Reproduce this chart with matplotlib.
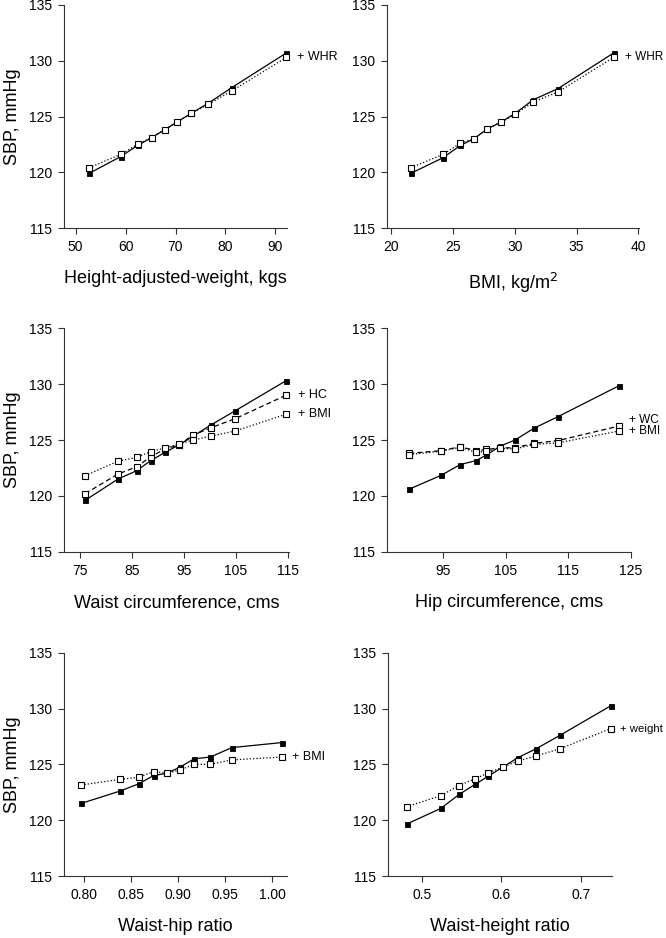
import matplotlib.pyplot as plt

plt.rcParams["font.family"] = ["Liberation Sans", "DejaVu Sans"]

# ==== DATOS ====
# panel 1: height-adjusted weight
haw_x = [52.7, 59.0, 62.4, 65.2, 67.8, 70.3, 73.2, 76.6, 81.3, 92.2]
haw_sbp = [119.9, 121.4, 122.4, 123.1, 123.8, 124.5, 125.3, 126.2, 127.6, 130.7]
haw_whr = [120.4, 121.6, 122.5, 123.1, 123.8, 124.5, 125.3, 126.1, 127.3, 130.3]

# panel 2: BMI
bmi_x = [21.6, 24.2, 25.6, 26.7, 27.8, 28.9, 30.05, 31.5, 33.5, 38.0]
bmi_sbp = [119.9, 121.3, 122.4, 123.0, 123.9, 124.5, 125.3, 126.5, 127.5, 130.7]
bmi_whr = [120.4, 121.6, 122.6, 123.0, 123.9, 124.5, 125.2, 126.3, 127.2, 130.3]

# panel 3: waist circumference
wc_x = [76.0, 82.3, 85.9, 88.6, 91.4, 94.0, 96.8, 100.2, 104.8, 114.6]
wc_sbp = [119.6, 121.5, 122.25, 123.15, 123.9, 124.55, 125.35, 126.35, 127.6, 130.3]
wc_hc = [120.2, 121.95, 122.6, 123.5, 124.2, 124.55, 125.45, 126.1, 126.9, 129.0]
wc_bmi = [121.8, 123.1, 123.45, 123.95, 124.3, 124.65, 125.0, 125.35, 125.8, 127.3]

# panel 4: hip circumference
hc_x = [89.55, 94.7, 97.7, 100.2, 101.9, 104.1, 106.5, 109.5, 113.4, 123.1]
hc_sbp = [120.6, 121.85, 122.8, 123.15, 123.65, 124.45, 125.0, 126.05, 127.1, 129.85]
hc_wc = [123.8, 124.05, 124.4, 124.05, 124.15, 124.3, 124.3, 124.7, 124.95, 126.25]
hc_bmi = [123.7, 124.0, 124.35, 123.9, 124.0, 124.25, 124.2, 124.6, 124.75, 125.8]

# panel 5: waist-hip ratio
whr_x = [0.797, 0.838, 0.858, 0.874, 0.888, 0.902, 0.917, 0.934, 0.957, 1.010]
whr_sbp = [121.5, 122.6, 123.25, 124.0, 124.2, 124.75, 125.5, 125.65, 126.5, 126.95]
whr_bmi = [123.15, 123.65, 123.85, 124.35, 124.2, 124.5, 125.0, 125.0, 125.4, 125.65]

# panel 6: waist-height ratio
whtr_x = [0.481, 0.524, 0.547, 0.567, 0.584, 0.602, 0.621, 0.644, 0.674, 0.738]
whtr_sbp = [119.65, 121.05, 122.3, 123.2, 123.95, 124.75, 125.6, 126.4, 127.6, 130.25]
whtr_wt = [121.2, 122.2, 123.1, 123.7, 124.25, 124.75, 125.3, 125.75, 126.4, 128.2]

# ==== FIGURA ====
W, H = 666, 938
fig = plt.figure(figsize=(W / 100, H / 100), dpi=100)


def make_ax(l, r, t, b):
    return fig.add_axes([l / W, 1 - b / H, (r - l) / W, (b - t) / H])


def style(ax, xlim, xticks, xlabels, xlabel, ylab):
    ax.set_xlim(*xlim)
    ax.set_ylim(115, 135)
    ax.set_xticks(xticks)
    ax.set_xticklabels(xlabels)
    ax.set_yticks([115, 120, 125, 130, 135])
    for s in ["top", "right"]:
        ax.spines[s].set_visible(False)
    for s in ["left", "bottom"]:
        ax.spines[s].set_linewidth(0.8)
        ax.spines[s].set_color("#333333")
    ax.tick_params(direction="out", length=4.5, width=0.8, labelsize=10,
                   colors="#333333", labelcolor="black", pad=4)
    ax.set_xlabel(xlabel, fontsize=13, labelpad=12)
    if ylab:
        ax.set_ylabel("SBP, mmHg", fontsize=13, labelpad=6)


def filled(ax, x, y):
    ax.plot(x, y, "-", color="black", lw=0.9, marker="s", ms=3.6,
            mfc="black", mec="black", mew=0.6, zorder=3, clip_on=False)


def hollow(ax, x, y, ls):
    ax.plot(x, y, linestyle=ls, color="black", lw=0.9, marker="s", ms=4.2,
            mfc="white", mec="black", mew=0.8, zorder=4, clip_on=False)


def tag(ax, x, y, txt, fs=9):
    ax.text(x, y, txt, fontsize=fs, va="center", ha="left", clip_on=False)


# panel 1
ax1 = make_ax(64, 287, 5, 228)
filled(ax1, haw_x, haw_sbp)
hollow(ax1, haw_x, haw_whr, ":")
tag(ax1, 94.4, 130.3, "+ WHR")
style(ax1, (47.67, 92.33), [50, 60, 70, 80, 90], ["50", "60", "70", "80", "90"],
      "Height-adjusted-weight, kgs", True)

# panel 2
ax2 = make_ax(387.3, 639, 5, 228)
filled(ax2, bmi_x, bmi_sbp)
hollow(ax2, bmi_x, bmi_whr, ":")
tag(ax2, 38.95, 130.3, "+ WHR", fs=8.5)
style(ax2, (19.7, 40.05), [20, 25, 30, 35, 40], ["20", "25", "30", "35", "40"],
      "BMI, kg/m$^2$", False)

# panel 3
ax3 = make_ax(64, 289, 328.3, 551.7)
filled(ax3, wc_x, wc_sbp)
hollow(ax3, wc_x, wc_hc, (0, (4, 2.5)))
hollow(ax3, wc_x, wc_bmi, ":")
tag(ax3, 116.9, 129.0, "+ HC")
tag(ax3, 116.9, 127.3, "+ BMI")
style(ax3, (71.93, 115.2), [75, 85, 95, 105, 115], ["75", "85", "95", "105", "115"],
      "Waist circumference, cms", True)

# panel 4
ax4 = make_ax(387.3, 630.7, 328.3, 551.7)
filled(ax4, hc_x, hc_sbp)
hollow(ax4, hc_x, hc_wc, (0, (4, 2.5)))
hollow(ax4, hc_x, hc_bmi, ":")
tag(ax4, 124.8, 126.8, "+ WC", fs=8.5)
tag(ax4, 124.8, 125.85, "+ BMI", fs=8.5)
style(ax4, (86.03, 125.0), [95, 105, 115, 125], ["95", "105", "115", "125"],
      "Hip circumference, cms", False)

# panel 5
ax5 = make_ax(64, 287.3, 652.7, 876)
filled(ax5, whr_x, whr_sbp)
hollow(ax5, whr_x, whr_bmi, ":")
tag(ax5, 1.0205, 125.65, "+ BMI")
style(ax5, (0.7788, 1.0159), [0.80, 0.85, 0.90, 0.95, 1.00],
      ["0.80", "0.85", "0.90", "0.95", "1.00"], "Waist-hip ratio", True)

# panel 6
ax6 = make_ax(388.3, 611.7, 652.7, 876)
filled(ax6, whtr_x, whtr_sbp)
hollow(ax6, whtr_x, whtr_wt, ":")
tag(ax6, 0.7495, 128.2, "+ weight", fs=8.2)
style(ax6, (0.458, 0.739), [0.5, 0.6, 0.7], ["0.5", "0.6", "0.7"],
      "Waist-height ratio", False)

fig.savefig("out.png", dpi=100)
